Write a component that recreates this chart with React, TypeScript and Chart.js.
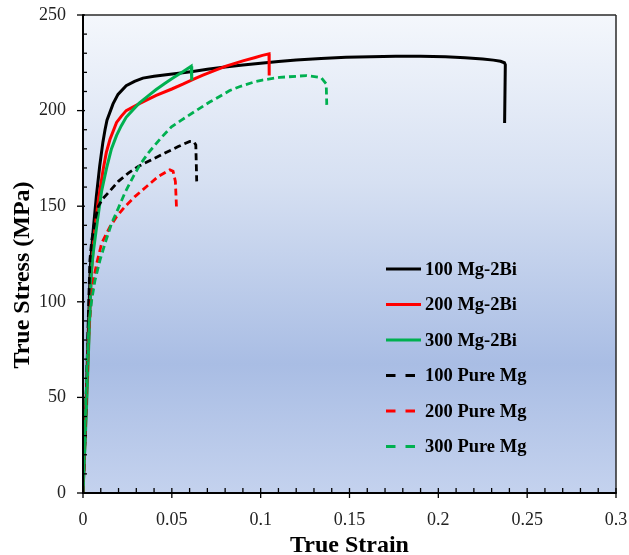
import { useEffect, useRef } from "react";
import { Chart, registerables } from "chart.js";

Chart.register(...registerables);

// ---------- data ----------
const seriesLabels = ["100 Mg-2Bi", "200 Mg-2Bi", "300 Mg-2Bi", "100 Pure Mg", "200 Pure Mg", "300 Pure Mg"];
const seriesColors = ["#000000", "#ff0000", "#00b050", "#000000", "#ff0000", "#00b050"];
const seriesDashed = [false, false, false, true, true, true];

const xTickLabels = ["0", "0.05", "0.1", "0.15", "0.2", "0.25", "0.3"];
const yTickLabels = ["0", "50", "100", "150", "200", "250"];
const xAxisTitle = "True Strain";
const yAxisTitle = "True Stress (MPa)";

const mg2bi100Strain = [0, 0.002, 0.0041, 0.0056, 0.0075, 0.0094, 0.0112, 0.0124, 0.0135, 0.0169, 0.0197, 0.0243, 0.029, 0.0337, 0.04, 0.0468, 0.055, 0.0618, 0.07, 0.08, 0.09, 0.1, 0.11, 0.12, 0.134, 0.148, 0.162, 0.176, 0.19, 0.204, 0.215, 0.225, 0.231, 0.235, 0.2372, 0.2377, 0.2373];
const mg2bi100Stress = [0, 55, 118, 136, 155, 171, 183.5, 190, 195, 203.5, 208.5, 213, 215.3, 217, 218, 218.8, 219.7, 220.5, 221.6, 222.8, 223.8, 224.8, 225.7, 226.5, 227.3, 227.9, 228.2, 228.4, 228.4, 228.1, 227.6, 227, 226.4, 225.8, 225, 224, 193.5];

const mg2bi200Strain = [0, 0.002, 0.0045, 0.0062, 0.0073, 0.0086, 0.0114, 0.0131, 0.0152, 0.0189, 0.0215, 0.0243, 0.032, 0.0412, 0.05, 0.0562, 0.062, 0.0675, 0.075, 0.0805, 0.09, 0.097, 0.101, 0.1047, 0.1048];
const mg2bi200Stress = [0, 50, 112, 134, 143, 153, 169.5, 178, 185, 193.8, 197, 200, 203.8, 208, 211.3, 213.8, 216.3, 218.5, 221.3, 223.3, 226, 227.8, 228.9, 229.7, 218.4];

const mg2bi300Strain = [0, 0.002, 0.0047, 0.0058, 0.0082, 0.0105, 0.0133, 0.016, 0.0189, 0.0215, 0.0243, 0.0282, 0.0318, 0.0365, 0.0412, 0.046, 0.0506, 0.0562, 0.0609, 0.0612];
const mg2bi300Stress = [0, 45, 116, 126, 143, 158, 170, 180, 187, 192, 196.5, 200.5, 204, 207.6, 211, 214.2, 217, 220.3, 223.2, 215.8];

const pure100Strain = [0, 0.0015, 0.0028, 0.0039, 0.0049, 0.0067, 0.0086, 0.0112, 0.0142, 0.0199, 0.0255, 0.0311, 0.0386, 0.0461, 0.0536, 0.0601, 0.0625, 0.0635, 0.064];
const pure100Stress = [0, 40, 85, 122, 132, 142.5, 150, 154, 157, 163, 167.3, 170.8, 174.3, 177.8, 181.2, 183.9, 183.6, 182, 163];

const pure200Strain = [0, 0.0015, 0.003, 0.0045, 0.006, 0.0077, 0.0105, 0.0152, 0.0189, 0.0236, 0.0292, 0.0358, 0.0423, 0.0489, 0.0507, 0.052, 0.0526];
const pure200Stress = [0, 40, 80, 100, 112, 120, 130.6, 139.3, 144.5, 149.8, 155, 160.3, 165.5, 169, 168.3, 163, 149.8];

const pure300Strain = [0, 0.001, 0.0024, 0.0035, 0.0049, 0.0067, 0.0096, 0.0124, 0.0161, 0.0199, 0.0236, 0.0283, 0.032, 0.0367, 0.0442, 0.0498, 0.0554, 0.062, 0.0713, 0.0749, 0.0826, 0.088, 0.0975, 0.101, 0.1107, 0.1257, 0.134, 0.1369, 0.1372];
const pure300Stress = [0, 30, 70, 90, 101, 111, 121.9, 130.6, 141, 149, 157, 165.5, 171.6, 177.8, 186, 191.5, 195, 199, 204.5, 206.3, 210.5, 212.5, 215.3, 216, 217.4, 218.3, 217.3, 214, 203];

const strainSeries = [mg2bi100Strain, mg2bi200Strain, mg2bi300Strain, pure100Strain, pure200Strain, pure300Strain];
const stressSeries = [mg2bi100Stress, mg2bi200Stress, mg2bi300Stress, pure100Stress, pure200Stress, pure300Stress];

const SERIF = "'Liberation Serif', 'Times New Roman', serif";

const bgPlugin = {
  id: "plotBackground",
  beforeDraw(chart: any) {
    const { ctx, chartArea: a } = chart;
    const g = ctx.createLinearGradient(0, a.top, 0, a.bottom);
    g.addColorStop(0, "#f4f7fc");
    g.addColorStop(0.35, "#d6e0f2");
    g.addColorStop(0.73, "#a9bde4");
    g.addColorStop(1, "#c4d2ee");
    ctx.save();
    ctx.fillStyle = g;
    ctx.fillRect(a.left, a.top, a.right - a.left, a.bottom - a.top);
    ctx.restore();
  },
};

const axesPlugin = {
  id: "axesTicks",
  afterDatasetsDraw(chart: any) {
    const { ctx, chartArea: a, scales } = chart;
    const xs = scales.x;
    const ys = scales.y;
    const line = (x1: number, y1: number, x2: number, y2: number) => {
      ctx.beginPath();
      ctx.moveTo(x1, y1);
      ctx.lineTo(x2, y2);
      ctx.stroke();
    };
    ctx.save();
    // frame
    ctx.strokeStyle = "#2a2a2a";
    ctx.lineWidth = 1.5;
    line(a.left, a.top, a.right, a.top);
    line(a.right, a.top, a.right, a.bottom);
    // axes
    ctx.strokeStyle = "#000";
    ctx.lineWidth = 2;
    line(a.left, a.bottom, a.right + 0.75, a.bottom);
    line(a.left, a.top - 0.75, a.left, a.bottom + 1);
    // x ticks
    ctx.lineWidth = 1.3;
    for (let i = 0; i <= 30; i++) {
      const px = xs.getPixelForValue(i / 100);
      if (i % 5 === 0) line(px, a.bottom - 5, px, a.bottom + 5);
      else line(px, a.bottom - 5, px, a.bottom);
    }
    // y ticks
    for (let i = 0; i <= 25; i++) {
      const py = ys.getPixelForValue(i * 10);
      if (i % 5 === 0) line(a.left - 6, py, a.left + 2, py);
      else line(a.left, py, a.left + 4, py);
    }
    ctx.restore();
  },
  afterDraw(chart: any) {
    const { ctx, chartArea: a } = chart;
    ctx.save();
    // axis titles
    ctx.fillStyle = "#000";
    ctx.font = `bold 24px ${SERIF}`;
    ctx.textAlign = "center";
    ctx.textBaseline = "alphabetic";
    ctx.fillText(xAxisTitle, (a.left + a.right) / 2, 552);
    ctx.translate(29, 275);
    ctx.rotate(-Math.PI / 2);
    ctx.fillText(yAxisTitle, 0, 0);
    ctx.restore();

    // legend
    ctx.save();
    const lx = a.left + 303;
    const ly0 = a.top + 254;
    const gap = 35.5;
    chart.data.datasets.forEach((ds: any, i: number) => {
      const y = ly0 + i * gap;
      ctx.strokeStyle = ds.borderColor;
      ctx.lineWidth = 3;
      if (ds.borderDash && ds.borderDash.length) {
        ctx.setLineDash([9.5, 10]);
        ctx.beginPath();
        ctx.moveTo(lx, y);
        ctx.lineTo(lx + 30, y);
        ctx.stroke();
        ctx.setLineDash([]);
      } else {
        ctx.beginPath();
        ctx.moveTo(lx, y);
        ctx.lineTo(lx + 35, y);
        ctx.stroke();
      }
      ctx.fillStyle = "#000";
      ctx.font = `bold 18.5px ${SERIF}`;
      ctx.textAlign = "left";
      ctx.textBaseline = "middle";
      ctx.fillText(ds.label, lx + 39, y + 1);
    });
    ctx.restore();
  },
};

export default function App() {
  const canvasRef = useRef<HTMLCanvasElement | null>(null);

  useEffect(() => {
    if (!canvasRef.current) return;
    const datasets = seriesLabels.map((label, i) => ({
      label,
      data: strainSeries[i].map((x, j) => ({ x, y: stressSeries[i][j] })),
      borderColor: seriesColors[i],
      backgroundColor: seriesColors[i],
      borderWidth: seriesDashed[i] ? 2.8 : 3,
      borderDash: seriesDashed[i] ? [7, 4] : [],
      pointRadius: 0,
      tension: 0,
      fill: false,
      order: 6 - i,
    }));

    const chart = new Chart(canvasRef.current, {
      type: "line",
      data: { datasets },
      plugins: [bgPlugin, axesPlugin],
      options: {
        animation: false,
        responsive: false,
        layout: { padding: { left: 0, top: 15, right: 13, bottom: 0 } },
        plugins: { legend: { display: false }, tooltip: { enabled: false } },
        scales: {
          x: {
            type: "linear",
            min: 0,
            max: 0.3,
            grid: { display: false, drawTicks: false },
            border: { display: false },
            ticks: {
              stepSize: 0.05,
              autoSkip: false,
              maxRotation: 0,
              padding: 16,
              color: "#222",
              font: { family: SERIF, size: 18 },
              callback: (_v: any, i: number) => xTickLabels[i],
            },
            afterFit: (s: any) => {
              s.height = 62;
              s.paddingLeft = 0;
              s.paddingRight = 0;
              s.paddingTop = 0;
              s.paddingBottom = 0;
            },
          },
          y: {
            type: "linear",
            min: 0,
            max: 250,
            grid: { display: false, drawTicks: false },
            border: { display: false },
            ticks: {
              stepSize: 50,
              padding: 17,
              color: "#222",
              font: { family: SERIF, size: 18 },
              callback: (_v: any, i: number) => yTickLabels[i],
            },
            afterFit: (s: any) => {
              s.width = 83;
              s.paddingLeft = 0;
              s.paddingRight = 0;
              s.paddingTop = 0;
              s.paddingBottom = 0;
            },
          },
        },
      },
    });
    return () => chart.destroy();
  }, []);

  return (
    <div style={{ position: "fixed", left: 0, top: 0, width: 629, height: 555, background: "#fff" }}>
      <canvas ref={canvasRef} width={629} height={555} style={{ display: "block" }} />
    </div>
  );
}
